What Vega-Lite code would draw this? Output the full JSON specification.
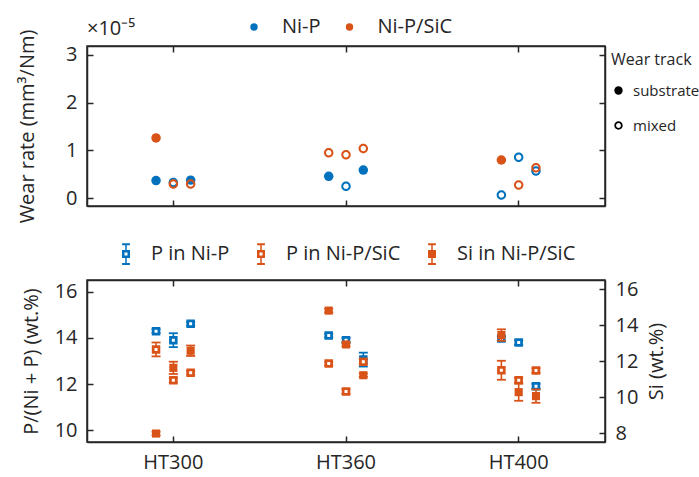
{
  "$schema": "https://vega.github.io/schema/vega-lite/v6.json",
  "padding": {"left": 16, "top": 16, "right": 0, "bottom": 0},
  "spacing": 18,
  "resolve": {"scale": {"color": "independent", "shape": "independent"}, "legend": {"color": "independent", "shape": "independent"}},
  "datasets": {
    "wear": [
      {"sample": "HT300", "slot": "a", "alloy": "Ni-P", "track": "substrate", "rate": 0.37},
      {"sample": "HT300", "slot": "b", "alloy": "Ni-P", "track": "mixed", "rate": 0.33},
      {"sample": "HT300", "slot": "c", "alloy": "Ni-P", "track": "substrate", "rate": 0.38},
      {"sample": "HT360", "slot": "a", "alloy": "Ni-P", "track": "substrate", "rate": 0.46},
      {"sample": "HT360", "slot": "b", "alloy": "Ni-P", "track": "mixed", "rate": 0.25},
      {"sample": "HT360", "slot": "c", "alloy": "Ni-P", "track": "substrate", "rate": 0.59},
      {"sample": "HT400", "slot": "a", "alloy": "Ni-P", "track": "mixed", "rate": 0.07},
      {"sample": "HT400", "slot": "b", "alloy": "Ni-P", "track": "mixed", "rate": 0.86},
      {"sample": "HT400", "slot": "c", "alloy": "Ni-P", "track": "mixed", "rate": 0.57},
      {"sample": "HT300", "slot": "a", "alloy": "Ni-P/SiC", "track": "substrate", "rate": 1.26},
      {"sample": "HT300", "slot": "b", "alloy": "Ni-P/SiC", "track": "mixed", "rate": 0.30},
      {"sample": "HT300", "slot": "c", "alloy": "Ni-P/SiC", "track": "mixed", "rate": 0.30},
      {"sample": "HT360", "slot": "a", "alloy": "Ni-P/SiC", "track": "mixed", "rate": 0.95},
      {"sample": "HT360", "slot": "b", "alloy": "Ni-P/SiC", "track": "mixed", "rate": 0.91},
      {"sample": "HT360", "slot": "c", "alloy": "Ni-P/SiC", "track": "mixed", "rate": 1.04},
      {"sample": "HT400", "slot": "a", "alloy": "Ni-P/SiC", "track": "substrate", "rate": 0.80},
      {"sample": "HT400", "slot": "b", "alloy": "Ni-P/SiC", "track": "mixed", "rate": 0.28},
      {"sample": "HT400", "slot": "c", "alloy": "Ni-P/SiC", "track": "mixed", "rate": 0.64}
    ],
    "comp": [
      {"element": "P", "series": "P in Ni-P", "sample": "HT300", "slot": "a", "val": 14.29, "lo": 14.21, "hi": 14.37},
      {"element": "P", "series": "P in Ni-P", "sample": "HT300", "slot": "b", "val": 13.9, "lo": 13.6, "hi": 14.2},
      {"element": "P", "series": "P in Ni-P", "sample": "HT300", "slot": "c", "val": 14.61, "lo": 14.53, "hi": 14.69},
      {"element": "P", "series": "P in Ni-P", "sample": "HT360", "slot": "a", "val": 14.1, "lo": 14.02, "hi": 14.18},
      {"element": "P", "series": "P in Ni-P", "sample": "HT360", "slot": "b", "val": 13.9, "lo": 13.8, "hi": 14.0},
      {"element": "P", "series": "P in Ni-P", "sample": "HT360", "slot": "c", "val": 13.06, "lo": 12.76, "hi": 13.36},
      {"element": "P", "series": "P in Ni-P", "sample": "HT400", "slot": "a", "val": 13.97, "lo": 13.87, "hi": 14.07},
      {"element": "P", "series": "P in Ni-P", "sample": "HT400", "slot": "b", "val": 13.8, "lo": 13.7, "hi": 13.9},
      {"element": "P", "series": "P in Ni-P", "sample": "HT400", "slot": "c", "val": 11.91, "lo": 11.81, "hi": 12.01},
      {"element": "P", "series": "P in Ni-P/SiC", "sample": "HT300", "slot": "a", "val": 13.5, "lo": 13.2, "hi": 13.8},
      {"element": "P", "series": "P in Ni-P/SiC", "sample": "HT300", "slot": "b", "val": 12.17, "lo": 12.07, "hi": 12.27},
      {"element": "P", "series": "P in Ni-P/SiC", "sample": "HT300", "slot": "c", "val": 12.49, "lo": 12.41, "hi": 12.57},
      {"element": "P", "series": "P in Ni-P/SiC", "sample": "HT360", "slot": "a", "val": 12.89, "lo": 12.81, "hi": 12.97},
      {"element": "P", "series": "P in Ni-P/SiC", "sample": "HT360", "slot": "b", "val": 11.68, "lo": 11.58, "hi": 11.78},
      {"element": "P", "series": "P in Ni-P/SiC", "sample": "HT360", "slot": "c", "val": 12.97, "lo": 12.87, "hi": 13.07},
      {"element": "P", "series": "P in Ni-P/SiC", "sample": "HT400", "slot": "a", "val": 12.6, "lo": 12.19, "hi": 13.01},
      {"element": "P", "series": "P in Ni-P/SiC", "sample": "HT400", "slot": "b", "val": 12.17, "lo": 12.07, "hi": 12.27},
      {"element": "P", "series": "P in Ni-P/SiC", "sample": "HT400", "slot": "c", "val": 12.59, "lo": 12.49, "hi": 12.69},
      {"element": "Si", "series": "Si in Ni-P/SiC", "sample": "HT300", "slot": "a", "val": 7.97, "lo": 7.87, "hi": 8.07},
      {"element": "Si", "series": "Si in Ni-P/SiC", "sample": "HT300", "slot": "b", "val": 11.62, "lo": 11.28, "hi": 11.96},
      {"element": "Si", "series": "Si in Ni-P/SiC", "sample": "HT300", "slot": "c", "val": 12.57, "lo": 12.28, "hi": 12.86},
      {"element": "Si", "series": "Si in Ni-P/SiC", "sample": "HT360", "slot": "a", "val": 14.8, "lo": 14.7, "hi": 14.9},
      {"element": "Si", "series": "Si in Ni-P/SiC", "sample": "HT360", "slot": "b", "val": 12.92, "lo": 12.82, "hi": 13.02},
      {"element": "Si", "series": "Si in Ni-P/SiC", "sample": "HT360", "slot": "c", "val": 11.21, "lo": 11.11, "hi": 11.31},
      {"element": "Si", "series": "Si in Ni-P/SiC", "sample": "HT400", "slot": "a", "val": 13.44, "lo": 13.12, "hi": 13.76},
      {"element": "Si", "series": "Si in Ni-P/SiC", "sample": "HT400", "slot": "b", "val": 10.27, "lo": 9.79, "hi": 10.75},
      {"element": "Si", "series": "Si in Ni-P/SiC", "sample": "HT400", "slot": "c", "val": 10.05, "lo": 9.68, "hi": 10.42}
    ]
  },
  "vconcat": [
    {
      "width": 518,
      "height": 160,
      "data": {"name": "wear"},
      "title": {"text": "×10⁻⁵", "anchor": "start", "frame": "group", "fontSize": 20, "font": "Open Sans", "fontWeight": "normal", "color": "#262626", "offset": -22},
      "encoding": {
        "xOffset": {"field": "slot", "type": "nominal", "scale": {"domain": ["a", "b", "c"], "range": [60.4, 112.3]}},
        "color": {
          "field": "alloy", "type": "nominal",
          "scale": {"domain": ["Ni-P", "Ni-P/SiC"], "range": ["#0072BD", "#D95319"]},
          "legend": {"orient": "none", "legendX": 157, "legendY": -29, "direction": "horizontal", "title": null, "labelFontSize": 20, "labelFont": "Open Sans", "labelColor": "#262626", "symbolType": "circle", "symbolSize": 55, "symbolStrokeWidth": 0, "labelOffset": 18, "columnPadding": 18.5, "padding": 0}
        },
        "shape": {
          "field": "track", "type": "nominal",
          "scale": {"domain": ["substrate", "mixed"], "range": ["circle", "M -1 0 A 1 1 0 1 0 1 0 A 1 1 0 1 0 -1 0 Z M -0.58 0 A 0.58 0.58 0 1 1 0.58 0 A 0.58 0.58 0 1 1 -0.58 0 Z"]},
          "legend": {"orient": "none", "legendX": 524, "legendY": 6, "title": "Wear track", "titleFontSize": 16, "titleFont": "Open Sans", "titleFontWeight": "normal", "titleColor": "#262626", "labelFontSize": 15, "labelFont": "Open Sans", "labelColor": "#262626", "symbolSize": 70, "symbolFillColor": "black", "symbolStrokeWidth": 0, "labelOffset": 7, "rowPadding": 19, "titlePadding": 15, "padding": 0,
            "encode": {"symbols": {"update": {"fill": {"value": "black"}, "strokeWidth": {"value": 0}}}}}
        }
      },
      "layer": [
        {
          "transform": [{"filter": "datum.alloy === 'Ni-P'"}],
          "mark": {"type": "point", "filled": true, "size": 90, "strokeWidth": 0, "opacity": 1},
          "encoding": {
            "x": {"field": "sample", "type": "nominal", "scale": {"domain": ["HT300", "HT360", "HT400"], "paddingInner": 0, "paddingOuter": 0}, "axis": {"orient": "bottom", "labels": false, "title": null}},
            "y": {"field": "rate", "type": "quantitative", "scale": {"domain": [-0.16, 3.18], "nice": false, "zero": false}, "axis": {"orient": "left", "values": [0, 1, 2, 3], "title": "Wear rate (mm³/Nm)", "titlePadding": 28}}
          }
        },
        {
          "transform": [{"filter": "datum.alloy === 'Ni-P/SiC'"}],
          "mark": {"type": "point", "filled": true, "size": 90, "strokeWidth": 0, "opacity": 1},
          "encoding": {
            "x": {"field": "sample", "type": "nominal", "axis": {"orient": "top", "labels": false, "title": null}},
            "y": {"field": "rate", "type": "quantitative", "axis": {"orient": "right", "values": [0, 1, 2, 3], "labels": false, "title": null}}
          }
        }
      ],
      "resolve": {"axis": {"x": "independent", "y": "independent"}}
    },
    {
      "width": 518,
      "height": 162,
      "data": {"name": "comp"},
      "encoding": {
        "x": {"field": "sample", "type": "nominal", "scale": {"domain": ["HT300", "HT360", "HT400"], "paddingInner": 0, "paddingOuter": 0}, "axis": {"orient": "bottom", "labelAngle": 0, "title": null}},
        "xOffset": {"field": "slot", "type": "nominal", "scale": {"domain": ["a", "b", "c"], "range": [60.4, 112.3]}},
        "color": {
          "field": "series", "type": "nominal",
          "scale": {"domain": ["P in Ni-P", "P in Ni-P/SiC", "Si in Ni-P/SiC"], "range": ["#0072BD", "#D95319", "#D95319"]},
          "legend": {"orient": "none", "legendX": 28, "legendY": -37, "direction": "horizontal", "title": null, "labelFontSize": 20, "labelFont": "Open Sans", "labelColor": "#262626", "symbolType": "square", "symbolSize": 467, "labelOffset": 14, "columnPadding": 20, "padding": 0,
            "encode": {"symbols": {"update": {
              "shape": {"signal": "datum.value === 'Si in Ni-P/SiC' ? 'M -0.36 -1 L 0.36 -1 L 0.36 -0.82 L -0.36 -0.82 Z M -0.07 -0.82 L 0.07 -0.82 L 0.07 -0.37 L -0.07 -0.37 Z M -0.37 -0.37 L 0.37 -0.37 L 0.37 0.37 L -0.37 0.37 Z M -0.07 0.37 L 0.07 0.37 L 0.07 0.82 L -0.07 0.82 Z M -0.36 0.82 L 0.36 0.82 L 0.36 1 L -0.36 1 Z' : 'M -0.36 -1 L 0.36 -1 L 0.36 -0.82 L -0.36 -0.82 Z M -0.07 -0.82 L 0.07 -0.82 L 0.07 -0.37 L -0.07 -0.37 Z M -0.37 -0.37 L 0.37 -0.37 L 0.37 0.37 L -0.37 0.37 Z M -0.14 -0.14 L -0.14 0.14 L 0.14 0.14 L 0.14 -0.14 Z M -0.07 0.37 L 0.07 0.37 L 0.07 0.82 L -0.07 0.82 Z M -0.36 0.82 L 0.36 0.82 L 0.36 1 L -0.36 1 Z'"},
              "fill": {"signal": "datum.value === 'P in Ni-P' ? '#0072BD' : '#D95319'"},
              "stroke": {"value": "transparent"},
              "strokeWidth": {"value": 0},
              "size": {"value": 467},
              "opacity": {"value": 1}
            }}}}
        }
      },
      "layer": [
        {
          "transform": [{"filter": "datum.element === 'P'"}],
          "layer": [
            {
              "mark": {"type": "rule", "strokeWidth": 1.6},
              "encoding": {
                "y": {"field": "lo", "type": "quantitative", "scale": {"domain": [9.5, 16.5], "nice": false, "zero": false}, "axis": {"orient": "left", "values": [10, 12, 14, 16], "title": "P/(Ni + P) (wt.%)", "titlePadding": 13}},
                "y2": {"field": "hi"}
              }
            },
            {
              "mark": {"type": "tick", "thickness": 1.8, "size": 9, "opacity": 1},
              "encoding": {"y": {"field": "lo", "type": "quantitative", "axis": {"orient": "left", "values": [10, 12, 14, 16], "title": "P/(Ni + P) (wt.%)", "titlePadding": 13}}}
            },
            {
              "mark": {"type": "tick", "thickness": 1.8, "size": 9, "opacity": 1},
              "encoding": {"y": {"field": "hi", "type": "quantitative", "axis": {"orient": "left", "values": [10, 12, 14, 16], "title": "P/(Ni + P) (wt.%)", "titlePadding": 13}}}
            },
            {
              "mark": {"type": "point", "shape": "square", "filled": false, "size": 33, "strokeWidth": 2.75, "opacity": 1, "fill": "white", "fillOpacity": 1},
              "encoding": {"y": {"field": "val", "type": "quantitative", "axis": {"orient": "left", "values": [10, 12, 14, 16], "title": "P/(Ni + P) (wt.%)", "titlePadding": 13}}}
            }
          ]
        },
        {
          "transform": [{"filter": "datum.element === 'Si'"}],
          "encoding": {
            "x": {"field": "sample", "type": "nominal", "axis": {"orient": "top", "labels": false, "title": null}}
          },
          "layer": [
            {
              "mark": {"type": "rule", "strokeWidth": 1.6},
              "encoding": {
                "y": {"field": "lo", "type": "quantitative", "scale": {"domain": [7.5, 16.5], "nice": false, "zero": false}, "axis": {"orient": "right", "values": [8, 10, 12, 14, 16], "title": "Si (wt.%)", "titleAngle": -90, "titleBaseline": "top", "titlePadding": 9}},
                "y2": {"field": "hi"}
              }
            },
            {
              "mark": {"type": "tick", "thickness": 1.8, "size": 9, "opacity": 1},
              "encoding": {"y": {"field": "lo", "type": "quantitative", "axis": {"orient": "right", "values": [8, 10, 12, 14, 16], "title": "Si (wt.%)", "titleAngle": -90, "titleBaseline": "top", "titlePadding": 9}}}
            },
            {
              "mark": {"type": "tick", "thickness": 1.8, "size": 9, "opacity": 1},
              "encoding": {"y": {"field": "hi", "type": "quantitative", "axis": {"orient": "right", "values": [8, 10, 12, 14, 16], "title": "Si (wt.%)", "titleAngle": -90, "titleBaseline": "top", "titlePadding": 9}}}
            },
            {
              "mark": {"type": "point", "shape": "square", "filled": true, "size": 66, "strokeWidth": 0, "opacity": 1},
              "encoding": {"y": {"field": "val", "type": "quantitative", "axis": {"orient": "right", "values": [8, 10, 12, 14, 16], "title": "Si (wt.%)", "titleAngle": -90, "titleBaseline": "top", "titlePadding": 9}}}
            }
          ]
        }
      ],
      "resolve": {"scale": {"y": "independent"}, "axis": {"x": "independent", "y": "independent"}}
    }
  ],
  "config": {
    "font": "Open Sans",
    "view": {"stroke": "#262626", "strokeWidth": 1.5},
    "axis": {"grid": false, "domainColor": "#262626", "domainWidth": 1.5, "tickColor": "#262626", "tickWidth": 1.5, "tickSize": -6, "labelFont": "Open Sans", "labelFontSize": 20, "labelColor": "#262626", "labelPadding": 16, "titleFont": "Open Sans", "titleFontSize": 20, "titleFontWeight": "normal", "titleColor": "#262626"}
  }
}
